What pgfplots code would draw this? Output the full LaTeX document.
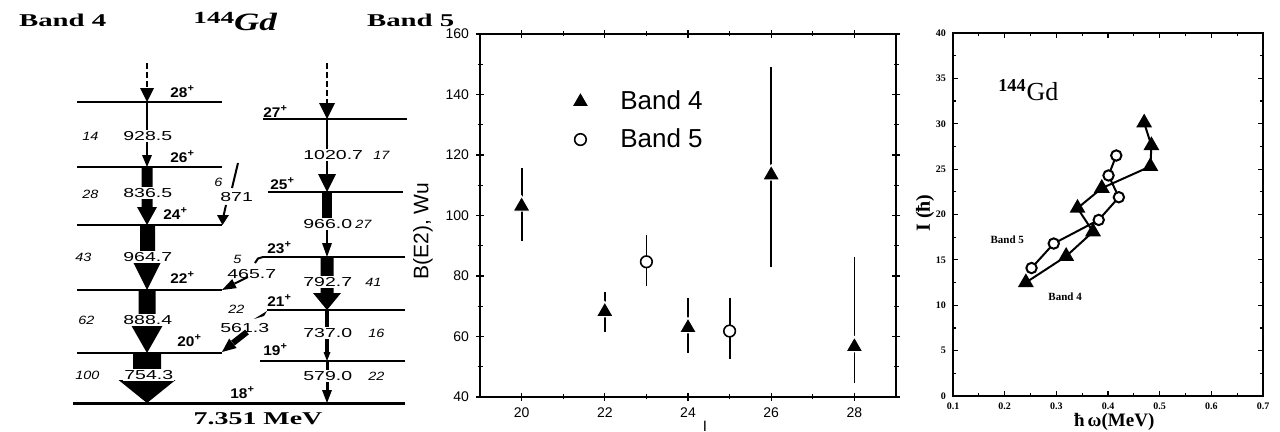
\documentclass[border=0pt]{standalone}
\usepackage{fontspec}
\setmainfont{Liberation Serif}
\setsansfont{Liberation Sans}
\usepackage{graphicx}
\usepackage{pgfplots}
\pgfplotsset{compat=1.18}

% the scanned level scheme is stretched sideways
\newcommand{\wide}[2]{\scalebox{#1}[1]{#2}}
\newcommand{\val}[1]{\wide{1.5}{\sffamily\fontsize{6.5}{7}\selectfont #1}}
\newcommand{\inten}[1]{\wide{1.2}{\sffamily\itshape\fontsize{6}{7}\selectfont #1}}
\newcommand{\spin}[1]{\wide{1.1}{\sffamily\bfseries\fontsize{7}{8}\selectfont #1\textsuperscript{+}}}

\begin{document}
\begin{tikzpicture}
\path[use as bounding box] (0pt,0pt) rectangle (640pt,-216pt);

% ---- left: level scheme (axis units = pixels, y down) ----
\begin{axis}[at={(0pt,0pt)}, anchor=origin, scale only axis,
    width=220pt, height=216pt, xmin=0, xmax=440, ymin=0, ymax=432,
    y dir=reverse, hide axis, clip=false]
  % levels, band 4
  \addplot[line width=1pt] coordinates {(77,102) (222,102)};
  \addplot[line width=1pt] coordinates {(77,167) (222,167)};
  \addplot[line width=1pt] coordinates {(77,225) (222,225)};
  \addplot[line width=1pt] coordinates {(77,290) (222,290)};
  \addplot[line width=1pt] coordinates {(77,353) (222,353)};
  % levels, band 5
  \addplot[line width=1pt] coordinates {(263,119) (407,119)};
  \addplot[line width=1pt] coordinates {(268,192) (403,192)};
  \addplot[line width=1pt] coordinates {(262,257) (405,257)};
  \addplot[line width=1pt] coordinates {(267,310) (405,310)};
  \addplot[line width=1pt] coordinates {(260,361) (405,361)};
  % 18+
  \addplot[line width=1.5pt] coordinates {(73,403) (405,403)};

  % band 4 transitions
  \addplot[line width=0.6pt, dash pattern=on 3pt off 1.5pt] coordinates {(147,63) (147,90)};
  \addplot[fill=black, draw=none] coordinates {(140,88) (154,88) (147,102)} --cycle;
  \addplot[line width=1.2pt] coordinates {(147,102) (147,156)};
  \addplot[fill=black, draw=none] coordinates {(142,155) (152,155) (147,167)} --cycle;
  \addplot[fill=black, draw=none] coordinates {(141.5,167) (152.5,167) (152.5,207) (157,207) (147,225) (137,207) (141.5,207)} --cycle;
  \addplot[fill=black, draw=none] coordinates {(140,225) (155,225) (155,260) (162,260) (147,290) (132,260) (140,260)} --cycle;
  \addplot[fill=black, draw=none] coordinates {(138.5,290) (155.5,290) (155.5,325) (163,325) (147,353) (131,325) (138.5,325)} --cycle;
  \addplot[fill=black, draw=none] coordinates {(133,353) (161,353) (161,380) (175.5,380) (147,403) (118.5,380) (133,380)} --cycle;

  % band 5 transitions
  \addplot[line width=0.6pt, dash pattern=on 3pt off 1.5pt] coordinates {(327,63) (327,104)};
  \addplot[fill=black, draw=none] coordinates {(319,103) (335,103) (327,119)} --cycle;
  \addplot[line width=1.2pt] coordinates {(327,119) (327,176)};
  \addplot[fill=black, draw=none] coordinates {(318,174) (336,174) (327,192)} --cycle;
  \addplot[fill=black, draw=none] coordinates {(322,192) (332,192) (332,220) (322,220)} --cycle;
  \addplot[line width=1.2pt] coordinates {(327,220) (327,245)};
  \addplot[fill=black, draw=none] coordinates {(322,243) (332,243) (327,257)} --cycle;
  \addplot[fill=black, draw=none] coordinates {(320.5,257) (333.5,257) (333.5,293) (341,293) (327,310) (313,293) (320.5,293)} --cycle;
  \addplot[line width=2pt] coordinates {(327,310) (327,353)};
  \addplot[fill=black, draw=none] coordinates {(323.5,352) (330.5,352) (327,361)} --cycle;
  \addplot[line width=1.5pt] coordinates {(327,361) (327,391)};
  \addplot[fill=black, draw=none] coordinates {(322,390) (332,390) (327,403)} --cycle;

  % inter-band transitions
  \addplot[line width=1pt] coordinates {(238,163) (232,188)};
  \addplot[line width=1pt] coordinates {(226,205) (223.5,216)};
  \addplot[fill=black, draw=none] coordinates {(217,215) (229,215) (222.5,225)} --cycle;
  \addplot[line width=1pt] coordinates {(263,257) (258,258.5) (255,263)};
  \addplot[line width=1pt] coordinates {(248,277) (234.5,283.6)};
  \addplot[fill=black, draw=none] coordinates {(236.8,288.1) (232.2,279.1) (222,290)} --cycle;
  \addplot[fill=black, draw=none] coordinates {(267,311) (264,316) (254,319)} --cycle;
  \addplot[line width=3pt] coordinates {(247,332) (233,343)};
  \addplot[fill=black, draw=none] coordinates {(236.6,348) (229.2,338.6) (222,352)} --cycle;

  % headers
  \node[anchor=west] at (axis cs:12,20) {\wide{1.6}{\bfseries\fontsize{9}{10}\selectfont Band 4}};
  \node[anchor=west] at (axis cs:360,20) {\wide{1.6}{\bfseries\fontsize{9}{10}\selectfont Band 5}};
  \node[anchor=base west, inner sep=0pt] at (axis cs:193,31) {\wide{1.6}{\bfseries\fontsize{8.5}{9}\selectfont\raisebox{3.5pt}{144}}\wide{1.4}{\bfseries\itshape\fontsize{12.5}{13}\selectfont Gd}};
  \node at (axis cs:258,419) {\wide{1.55}{\bfseries\fontsize{9}{10}\selectfont 7.351 MeV}};

  % spins
  \node[anchor=west, inner sep=0pt] at (axis cs:170,92) {\spin{28}};
  \node[anchor=west, inner sep=0pt] at (axis cs:170,157) {\spin{26}};
  \node[anchor=west, inner sep=0pt] at (axis cs:163,214) {\spin{24}};
  \node[anchor=west, inner sep=0pt] at (axis cs:170,278) {\spin{22}};
  \node[anchor=west, inner sep=0pt] at (axis cs:177,341) {\spin{20}};
  \node[anchor=west, inner sep=0pt] at (axis cs:230,393) {\spin{18}};
  \node[anchor=west, inner sep=0pt] at (axis cs:263,112) {\spin{27}};
  \node[anchor=west, inner sep=0pt] at (axis cs:270,184) {\spin{25}};
  \node[anchor=west, inner sep=0pt] at (axis cs:267,248) {\spin{23}};
  \node[anchor=west, inner sep=0pt] at (axis cs:267,301) {\spin{21}};
  \node[anchor=west, inner sep=0pt] at (axis cs:263,350) {\spin{19}};

  % energies and intensities, band 4
  \node[anchor=west, fill=white, inner sep=0.5pt] at (axis cs:122,136) {\val{928.5}};
  \node[anchor=west, fill=white, inner sep=0.5pt] at (axis cs:122,193) {\val{836.5}};
  \node[anchor=west, fill=white, inner sep=0.5pt] at (axis cs:122,257) {\val{964.7}};
  \node[anchor=west, fill=white, inner sep=0.5pt] at (axis cs:122,320) {\val{888.4}};
  \node[anchor=west, fill=white, inner sep=0.5pt] at (axis cs:123,375) {\val{754.3}};
  \node[anchor=west, inner sep=0pt] at (axis cs:82,136) {\inten{14}};
  \node[anchor=west, inner sep=0pt] at (axis cs:82,194) {\inten{28}};
  \node[anchor=west, inner sep=0pt] at (axis cs:75,257) {\inten{43}};
  \node[anchor=west, inner sep=0pt] at (axis cs:78,320) {\inten{62}};
  \node[anchor=west, inner sep=0pt] at (axis cs:75,375) {\inten{100}};
  % band 5
  \node[anchor=west, fill=white, inner sep=0.5pt] at (axis cs:302,155) {\val{1020.7}};
  \node[anchor=west, fill=white, inner sep=0.5pt] at (axis cs:302,224) {\val{966.0}};
  \node[anchor=west, fill=white, inner sep=0.5pt] at (axis cs:302,282) {\val{792.7}};
  \node[anchor=west, fill=white, inner sep=0.5pt] at (axis cs:302,333) {\val{737.0}};
  \node[anchor=west, fill=white, inner sep=0.5pt] at (axis cs:302,376) {\val{579.0}};
  \node[anchor=west, inner sep=0pt] at (axis cs:373,155) {\inten{17}};
  \node[anchor=west, inner sep=0pt] at (axis cs:355,224) {\inten{27}};
  \node[anchor=west, inner sep=0pt] at (axis cs:365,282) {\inten{41}};
  \node[anchor=west, inner sep=0pt] at (axis cs:368,333) {\inten{16}};
  \node[anchor=west, inner sep=0pt] at (axis cs:368,376) {\inten{22}};
  % inter-band labels
  \node[anchor=west, inner sep=0pt] at (axis cs:214,182) {\inten{6}};
  \node[anchor=west, fill=white, inner sep=0.5pt] at (axis cs:219,197) {\val{871}};
  \node[anchor=west, inner sep=0pt] at (axis cs:233,259) {\inten{5}};
  \node[anchor=west, inner sep=0.5pt] at (axis cs:226,274) {\val{465.7}};
  \node[anchor=west, inner sep=0pt] at (axis cs:228,309) {\inten{22}};
  \node[anchor=west, inner sep=0.5pt] at (axis cs:219,328) {\val{561.3}};
\end{axis}

% ---- middle: B(E2) ----
\begin{axis}[at={(240pt,-17pt)}, anchor=north west, scale only axis,
    width=208pt, height=181.5pt,
    xmin=19, xmax=29, ymin=40, ymax=160,
    xtick={20,22,24,26,28}, ytick={40,60,...,160},
    minor x tick num=1, minor y tick num=1,
    tick align=center, major tick length=4pt, minor tick length=2.5pt,
    axis line style={line width=0.8pt},
    every tick/.style={black, line width=0.6pt},
    ticklabel style={font=\sffamily\fontsize{7}{8}\selectfont},
    /pgf/number format/assume math mode=true,
    ylabel={B(E2), Wu},
    every axis y label/.style={at={(axis description cs:-0.137,0.457)}, rotate=90, anchor=center, font=\sffamily\fontsize{10.5}{12}\selectfont},
    xlabel={I},
    every axis x label/.style={at={(axis description cs:0.541,-0.066)}, anchor=north, inner sep=0pt, font=\sffamily\fontsize{7.5}{8}\selectfont},
    legend image code/.code={%
      \draw[#1] plot[only marks] coordinates {(0.3cm,0cm)};
      \path[draw=none, fill=none] (0cm,0cm) -- (0.93cm,0cm);},
    legend style={at={(axis cs:20.85,144)}, anchor=north west, draw=none, fill=none,
      font=\sffamily\fontsize{13}{14}\selectfont, row sep=4pt},
    legend cell align=left]
  \addplot[only marks, mark=triangle*, mark size=5pt,
      mark options={fill=black, draw=white, line width=0.6pt},
      error bars/.cd, y dir=both, y explicit, error mark=none,
      error bar style={line width=0.9pt, black}]
    coordinates {
      (20,103.1) += (0,12.5) -= (0,11.4)
      (22,68.2) += (0,6.6) -= (0,6.6)
      (24,62.9) += (0,9.7) -= (0,8.3)
      (26,113.4) += (0,35.8) -= (0,30.3)
      (28,56.6) += (0,29.6) -= (0,12.1)
    };
  \addlegendentry{Band 4}
  \addplot[only marks, mark=*, mark size=2.9pt,
      mark options={fill=white, draw=black, line width=0.8pt},
      error bars/.cd, y dir=both, y explicit, error mark=none,
      error bar style={line width=0.9pt, black}]
    coordinates {
      (23,84.7) += (0,8.9) -= (0,8.0)
      (25,61.8) += (0,10.8) -= (0,9.3)
    };
  \addlegendentry{Band 5}
\end{axis}

% ---- right: I vs hbar omega ----
\begin{axis}[at={(476.5pt,-16.5pt)}, anchor=north west, scale only axis,
    width=155pt, height=181.5pt,
    xmin=0.1, xmax=0.7, ymin=0, ymax=40,
    xtick={0.1,0.2,0.3,0.4,0.5,0.6,0.7},
    xticklabels={0.1,0.2,0.3,0.4,0.5,0.6,0.7},
    ytick={0,5,...,40},
    minor x tick num=1, minor y tick num=1,
    tick align=inside, major tick length=2.5pt, minor tick length=1.5pt,
    axis line style={line width=1pt},
    every tick/.style={black, line width=0.6pt},
    ticklabel style={font=\bfseries\fontsize{5}{6}\selectfont},
    /pgf/number format/assume math mode=true,
    xlabel={ħ\,ω(MeV)},
    every axis x label/.style={at={(axis description cs:0.52,-0.028)}, anchor=north, font=\bfseries\fontsize{9.5}{10}\selectfont},
    ylabel={I (ħ)},
    every axis y label/.style={at={(axis description cs:-0.09,0.504)}, rotate=90, anchor=center, font=\bfseries\fontsize{10}{11}\selectfont}]
  \addplot[line width=1pt, mark=triangle*, mark size=3.6pt, mark options={fill=black}]
    coordinates {(0.241,12.5) (0.319,15.4) (0.371,18.1) (0.341,20.7)
                 (0.388,22.9) (0.482,25.3) (0.484,27.6) (0.470,30.1)};
  \addplot[line width=1pt, mark=*, mark size=2.6pt, mark options={fill=white, line width=1pt}]
    coordinates {(0.252,14.1) (0.295,16.8) (0.382,19.4) (0.421,21.9)
                 (0.401,24.3) (0.416,26.5)};
  \node[anchor=base west, inner sep=0pt] at (axis cs:0.187,32.6) {\fontsize{13}{14}\selectfont\textsuperscript{\bfseries 144}Gd};
  \node[anchor=west, inner sep=0pt] at (axis cs:0.172,17.2) {\bfseries\fontsize{5.5}{6}\selectfont Band 5};
  \node[anchor=west, inner sep=0pt] at (axis cs:0.284,10.9) {\bfseries\fontsize{5.5}{6}\selectfont Band 4};
\end{axis}
\end{tikzpicture}
\end{document}
